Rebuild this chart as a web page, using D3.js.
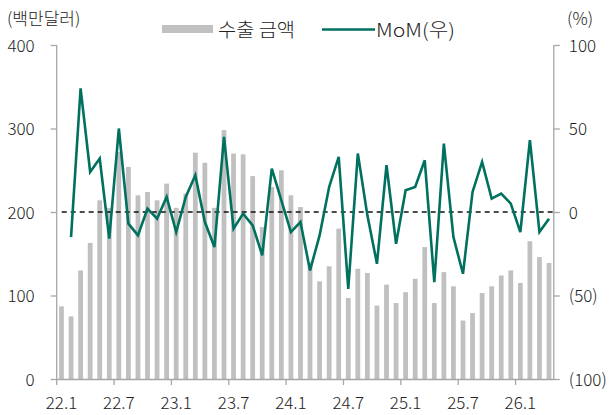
<!DOCTYPE html>
<html>
<head>
<meta charset="utf-8">
<script src="https://cdn.jsdelivr.net/npm/d3@7"></script>
<style>
  html, body { margin: 0; padding: 0; background: #fff; }
  svg { display: block; }
  text { font-family: "Noto Sans CJK KR", "Noto Sans", sans-serif; font-weight: 300; fill: #222; }
</style>
</head>
<body>
<svg id="chart" width="612" height="415"></svg>
<script>
// Monthly categories, 2022.1 – 2026.4
const years = [22, 23, 24, 25, 26];
const months = [];
years.forEach(y => {
  for (let m = 1; m <= 12; m++) {
    if (y === 26 && m > 4) break;
    months.push(y + "." + m);
  }
});

// Export amount (USD million)
const exportAmount = [
  87, 75, 130, 163, 214, 205, 272, 254, 220, 224, 214, 234,
  205, 222, 271, 259, 205, 298, 270, 269, 243, 182, 230, 250,
  220, 206, 140, 117, 135, 180, 97, 132, 127, 88, 113, 91,
  104, 120, 158, 91, 128, 111, 70, 79, 103, 111, 124, 130,
  115, 165, 146, 139
];

// Month-over-month change (%), first month has no prior value
const momChange = [
  null, -15, 74, 24, 32, -16, 50, -7, -14, 2, -4, 9,
  -12, 9, 22, -6, -21, 45, -10, -1, -8, -26, 26, 7,
  -12, -6, -35, -14, 15, 33, -46, 35, -2, -31, 28, -19,
  13, 15, 31, -42, 41, -15, -37, 12, 30, 8, 11, 5,
  -12, 43, -12, -4
];

const leftTicks = [0, 100, 200, 300, 400];
const rightTicks = [-100, -50, 0, 50, 100];
const xTickLabels = ["22.1", "22.7", "23.1", "23.7", "24.1", "24.7", "25.1", "25.7", "26.1"];

const svg = d3.select("#chart");
const plot = { left: 56.7, right: 553.8, top: 45, bottom: 379 };
const axisColor = "#a6a6a6";
const lineColor = "#00705f";
const barColor = "#c0c0c0";

const x = d3.scaleBand()
  .domain(months)
  .range([plot.left, plot.right])
  .paddingInner(0.5)
  .paddingOuter(0.25);
const step = x.step();
const cx = m => x(m) + x.bandwidth() / 2;

const yL = d3.scaleLinear().domain([0, 400]).range([plot.bottom, plot.top]);
const yR = d3.scaleLinear().domain([-100, 100]).range([plot.bottom, plot.top]);

// Bars
svg.append("g")
  .selectAll("rect")
  .data(months.map((m, i) => ({ m, v: exportAmount[i] })))
  .join("rect")
  .attr("x", d => x(d.m))
  .attr("width", x.bandwidth())
  .attr("y", d => yL(d.v))
  .attr("height", d => yL(0) - yL(d.v))
  .attr("fill", barColor);

// Zero reference for MoM
svg.append("line")
  .attr("x1", plot.left + 5).attr("x2", plot.right)
  .attr("y1", yR(0)).attr("y2", yR(0))
  .attr("stroke", "#111").attr("stroke-width", 1.3)
  .attr("stroke-dasharray", "5,4");

// MoM line
const lineData = months.map((m, i) => ({ m, v: momChange[i] })).filter(d => d.v !== null);
svg.append("path")
  .datum(lineData)
  .attr("fill", "none")
  .attr("stroke", lineColor)
  .attr("stroke-width", 2.6)
  .attr("stroke-linejoin", "miter")
  .attr("d", d3.line().x(d => cx(d.m)).y(d => yR(d.v)));

// Left axis
const gL = svg.append("g")
  .attr("transform", `translate(${plot.left},0)`)
  .call(d3.axisLeft(yL).tickValues(leftTicks).tickSize(6).tickPadding(16).tickFormat(d3.format("d")));

// Right axis
const gR = svg.append("g")
  .attr("transform", `translate(${plot.right},0)`)
  .call(d3.axisRight(yR).tickValues(rightTicks).tickSize(6).tickPadding(9)
    .tickFormat(d => d < 0 ? `(${-d})` : `${d}`));

// Bottom axis: ticks at the start of each labelled month slot
const gB = svg.append("g")
  .attr("transform", `translate(0,${plot.bottom})`)
  .call(d3.axisBottom(x).tickValues(xTickLabels).tickSize(6).tickPadding(10).tickSizeOuter(0));
gB.selectAll(".tick line").attr("x1", -step / 2).attr("x2", -step / 2);

[gL, gR, gB].forEach(g => {
  g.select(".domain").attr("stroke", axisColor).attr("stroke-width", 1.3);
  g.selectAll(".tick line").attr("stroke", axisColor).attr("stroke-width", 1.3);
  g.selectAll(".tick text").attr("font-size", 17).attr("fill", "#222")
    .style("font-family", '"Noto Sans CJK KR", "Noto Sans", sans-serif')
    .style("font-weight", 300);
});
gL.select(".domain").attr("d", `M0,${plot.bottom}V${plot.top}`);
gR.select(".domain").attr("d", `M0,${plot.bottom}V${plot.top}`);
gL.selectAll(".tick text").attr("dy", "0.36em");
gR.selectAll(".tick text").attr("dy", "0.36em");
gB.selectAll(".tick text").attr("dy", "0.8em");

// Unit labels
svg.append("text").attr("x", 7).attr("y", 25).attr("font-size", 17).text("(백만달러)");
svg.append("text").attr("x", 593).attr("y", 25).attr("font-size", 17).attr("text-anchor", "end").text("(%)");

// Legend
const legend = svg.append("g");
legend.append("rect").attr("x", 162).attr("y", 25).attr("width", 51).attr("height", 8).attr("fill", barColor);
legend.append("text").attr("x", 218).attr("y", 37).attr("font-size", 19)
  .attr("textLength", 77).attr("lengthAdjust", "spacingAndGlyphs").text("수출 금액");
legend.append("line").attr("x1", 322).attr("x2", 375).attr("y1", 29.5).attr("y2", 29.5)
  .attr("stroke", lineColor).attr("stroke-width", 2.6);
legend.append("text").attr("x", 376).attr("y", 37).attr("font-size", 19)
  .attr("textLength", 79).attr("lengthAdjust", "spacingAndGlyphs").text("MoM(우)");
</script>
</body>
</html>
